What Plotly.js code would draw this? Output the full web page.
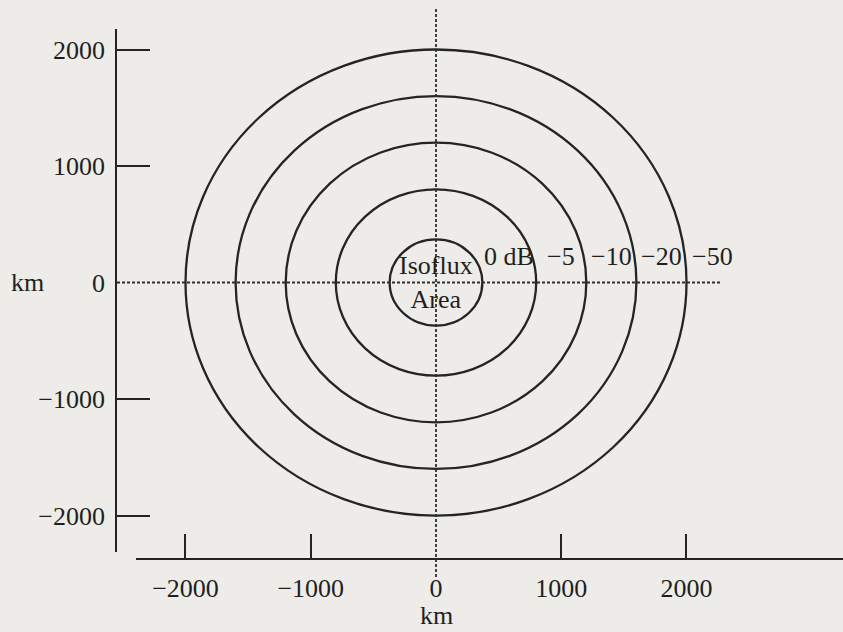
<!DOCTYPE html>
<html>
<head>
<meta charset="utf-8">
<script src="https://cdn.plot.ly/plotly-3.0.1.min.js"></script>
<style>html,body{margin:0;padding:0;background:#edece8;}#chart{width:843px;height:632px;}</style>
</head>
<body>
<div id="chart"></div>
<script>
// ---- data ----
const ringRadiiKm = [370, 800, 1200, 1600, 2000];          // contour radii (km)
const ringLabels = ["0 dB", "\u22125", "\u221210", "\u221220", "\u221250"];
const centerLabel = "Isoflux<br>Area";
const axisTickVals = [-2000, -1000, 0, 1000, 2000];
const axisTickMarks = [-2000, -1000, 1000, 2000];
const axisTickText = ["\u22122000", "\u22121000", "0", "1000", "2000"];
const refLineEndKm = 2280;   // right end of horizontal dashed reference line
const unitLabel = "km";

// ---- styling / layout constants ----
const W = 843, H = 632;
const FONT = "Liberation Serif, Times New Roman, serif";
const INK = "#242424";
const TXT = "#1f1f1f";
const BG = "#edece8";
const FS = 26;
const xRangeMain = [-2547, 3249.5];
const xRangeAxis = [-2395, 3249.5];
const yRange = [-2313, 2176];
const xDomMain = [117 / W, 1];
const xDomAxis = [136 / W, 1];
const yDom = [1 - 552 / H, 1 - 29 / H];
const xAxisPos = 1 - 559 / H;
const labelYKm = 220;

// label x positions: midway between successive rings, last one just outside
const labelX = ringLabels.map((_, i) => i < ringRadiiKm.length - 1
  ? (ringRadiiKm[i] + ringRadiiKm[i + 1]) / 2
  : ringRadiiKm[i] + 210);

const shapes = [];
ringRadiiKm.forEach(r => shapes.push({
  type: "circle", xref: "x", yref: "y", x0: -r, x1: r, y0: -r, y1: r,
  line: { color: INK, width: 2.3 }
}));
// horizontal dashed reference line at y = 0
shapes.push({ type: "line", xref: "x", yref: "y", x0: xRangeMain[0], x1: refLineEndKm, y0: 0, y1: 0,
  line: { color: "#2e2e2e", width: 1.8, dash: "3px,2px" } });
// vertical dashed reference line at x = 0
shapes.push({ type: "line", xref: "x", yref: "paper", x0: 0, x1: 0, y0: 1 - 577 / H, y1: 1 - 8 / H,
  line: { color: "#2e2e2e", width: 1.8, dash: "3px,2px" } });

const annotations = ringLabels.map((t, i) => ({
  x: labelX[i], y: labelYKm, xref: "x", yref: "y", text: t, showarrow: false,
  font: { family: FONT, size: FS, color: TXT }, xanchor: "center", yanchor: "middle"
}));
annotations.push({ x: 0, y: 0, xref: "x", yref: "y", text: centerLabel, showarrow: false,
  font: { family: FONT, size: FS, color: TXT }, xanchor: "center", yanchor: "middle" });
annotations.push({ x: 28 / W, y: 0, xref: "paper", yref: "y", text: unitLabel, showarrow: false,
  font: { family: FONT, size: FS, color: TXT }, xanchor: "center", yanchor: "middle" });
annotations.push({ x: 0, y: 1 - 615 / H, xref: "x", yref: "paper", text: unitLabel, showarrow: false,
  font: { family: FONT, size: FS, color: TXT }, xanchor: "center", yanchor: "middle" });

const dummy = { type: "scatter", mode: "markers", marker: { opacity: 0 }, hoverinfo: "skip", showlegend: false };
const traces = [
  Object.assign({}, dummy, { x: [0], y: [0], xaxis: "x", yaxis: "y" }),
  Object.assign({}, dummy, { x: [0], y: [0], xaxis: "x2", yaxis: "y" }),
  Object.assign({}, dummy, { x: [0], y: [0], xaxis: "x", yaxis: "y2" })
];

const tickFont = { family: FONT, size: FS, color: TXT };
const layout = {
  width: W, height: H,
  margin: { l: 0, r: 0, t: 0, b: 0, pad: 0 },
  paper_bgcolor: BG, plot_bgcolor: "rgba(0,0,0,0)",
  showlegend: false,
  xaxis: {
    domain: xDomMain, range: xRangeMain, anchor: "free", position: xAxisPos,
    showline: false, showgrid: false, zeroline: false, ticks: "",
    tickmode: "array", tickvals: axisTickVals, ticktext: axisTickText,
    tickfont: tickFont, ticklabelstandoff: 11, fixedrange: true
  },
  xaxis2: {
    domain: xDomAxis, range: xRangeAxis, anchor: "free", position: xAxisPos,
    showline: true, linecolor: INK, linewidth: 2.3, showgrid: false, zeroline: false,
    ticks: "inside", ticklen: 24, tickwidth: 2, tickcolor: INK,
    tickmode: "array", tickvals: axisTickMarks, showticklabels: false, fixedrange: true
  },
  yaxis: {
    domain: yDom, range: yRange, anchor: "x",
    showline: false, showgrid: false, zeroline: false, ticks: "",
    tickmode: "array", tickvals: axisTickVals, ticktext: axisTickText,
    tickfont: tickFont, ticklabelstandoff: 11, fixedrange: true
  },
  yaxis2: {
    overlaying: "y", range: yRange, anchor: "x", side: "left",
    showline: true, linecolor: INK, linewidth: 2.3, showgrid: false, zeroline: false,
    ticks: "inside", ticklen: 33, tickwidth: 2, tickcolor: INK,
    tickmode: "array", tickvals: axisTickMarks, showticklabels: false, fixedrange: true
  },
  shapes: shapes,
  annotations: annotations
};

Plotly.newPlot("chart", traces, layout, { staticPlot: true, displayModeBar: false });
</script>
</body>
</html>
